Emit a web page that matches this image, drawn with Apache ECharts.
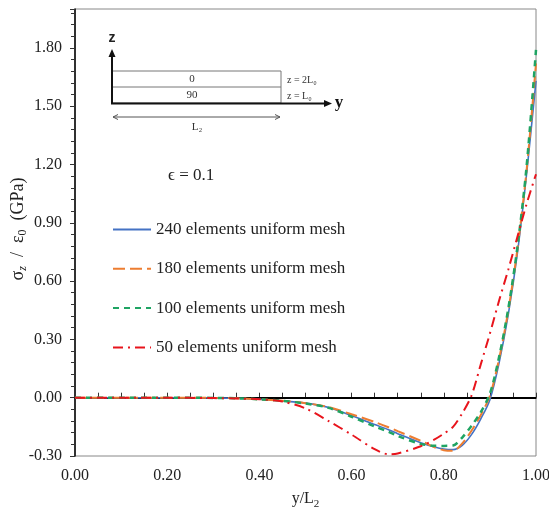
<!DOCTYPE html>
<html>
<head>
<meta charset="utf-8">
<script src="https://cdn.jsdelivr.net/npm/echarts@6/dist/echarts.min.js"></script>
<style>html,body{margin:0;padding:0;background:#fff}#c{width:549px;height:507px}</style>
</head>
<body>
<div id="c"></div>
<script>
// shared x positions (y/L2)
const xs = [0, 0.1, 0.2, 0.3, 0.35, 0.4, 0.45, 0.5, 0.55, 0.6, 0.65, 0.68, 0.7, 0.75, 0.78, 0.8, 0.82, 0.84, 0.86, 0.88, 0.9, 0.92, 0.94, 0.96, 0.98, 1.0];
// sigma_z / eps0 (GPa)
const mesh240 = [0, 0, 0, -0.001, -0.003, -0.008, -0.016, -0.028, -0.05, -0.092, -0.138, -0.165, -0.185, -0.232, -0.254, -0.264, -0.267, -0.245, -0.19, -0.11, -0.01, 0.18, 0.43, 0.75, 1.16, 1.63];
const mesh180 = [0, 0, 0, -0.001, -0.003, -0.008, -0.016, -0.028, -0.048, -0.085, -0.125, -0.152, -0.172, -0.222, -0.255, -0.27, -0.273, -0.235, -0.17, -0.09, 0.01, 0.2, 0.45, 0.77, 1.18, 1.72];
const mesh100 = [0, 0, 0, -0.001, -0.003, -0.008, -0.016, -0.03, -0.052, -0.098, -0.148, -0.175, -0.197, -0.238, -0.247, -0.248, -0.246, -0.205, -0.145, -0.075, 0.02, 0.21, 0.46, 0.78, 1.2, 1.79];
const mesh50 = [0, 0, 0, -0.002, -0.004, -0.008, -0.02, -0.055, -0.12, -0.19, -0.265, -0.291, -0.287, -0.25, -0.215, -0.185, -0.15, -0.08, 0.01, 0.17, 0.33, 0.5, 0.66, 0.83, 1.0, 1.15];
const seriesNames = ['240 elements uniform mesh', '180 elements uniform mesh', '100 elements uniform mesh', '50 elements uniform mesh'];
const xTickLabels = ['0.00', '0.20', '0.40', '0.60', '0.80', '1.00'];
const yTickLabels = ['-0.30', '0.00', '0.30', '0.60', '0.90', '1.20', '1.50', '1.80'];

const pair = arr => xs.map((x, i) => [x, arr[i]]);
const serif = 'Liberation Serif';
const chart = echarts.init(document.getElementById('c'));

const styles = [
  {color: '#4472C4', width: 1.6, type: 'solid'},
  {color: '#ED7D31', width: 2, type: [12, 5]},
  {color: '#1FA463', width: 2.5, type: [6, 5]},
  {color: '#E8141C', width: 2, type: [10, 5, 2, 5]}
];
const datas = [mesh240, mesh180, mesh100, mesh50];

const series = datas.map((d, i) => ({
  name: seriesNames[i],
  type: 'line',
  data: pair(d),
  smooth: 0.3,
  showSymbol: false,
  symbol: 'none',
  lineStyle: styles[i],
  itemStyle: {color: styles[i].color},
  z: 3 + i
}));
series[0].markLine = {
  silent: true,
  symbol: 'none',
  label: {show: false},
  lineStyle: {color: '#000', width: 2, type: 'solid'},
  data: [{yAxis: 0}],
  z: 2
};

const axisLbl = {fontFamily: serif, fontSize: 16, color: '#222'};

chart.setOption({
  animation: false,
  backgroundColor: '#fff',
  grid: {left: 75, right: 13, top: 9, bottom: 51, show: true, borderColor: '#888', borderWidth: 1, outerBoundsMode: 'none', containLabel: false},
  xAxis: {
    type: 'value', min: 0, max: 1, interval: 0.2,
    name: '{a|y/L}{s|2}', nameLocation: 'middle', nameGap: 32,
    nameTextStyle: {rich: {a: {fontFamily: serif, fontSize: 16, color: '#222', lineHeight: 22, verticalAlign: 'middle'}, s: {fontFamily: serif, fontSize: 11, color: '#222', lineHeight: 22, verticalAlign: 'bottom'}}},
    axisLine: {lineStyle: {color: '#000', width: 1.5}},
    axisTick: {inside: true, length: 5, lineStyle: {color: '#333'}},
    minorTick: {show: true, splitNumber: 4, length: 5, lineStyle: {color: '#333'}},
    axisLabel: Object.assign({margin: 12, formatter: v => xTickLabels[Math.round(v / 0.2)]}, axisLbl),
    splitLine: {show: false}
  },
  yAxis: {
    type: 'value', min: -0.3, max: 2.0, interval: 0.3,
    axisLine: {show: true, lineStyle: {color: '#000', width: 1.5}},
    axisTick: {show: true, inside: false, length: 5, lineStyle: {color: '#333'}},
    minorTick: {show: true, splitNumber: 5, length: 4, lineStyle: {color: '#333'}},
    axisLabel: Object.assign({margin: 13, showMaxLabel: false, formatter: v => {
      const i = Math.round((v + 0.3) / 0.3);
      return Math.abs(v - (-0.3 + i * 0.3)) < 1e-6 ? (yTickLabels[i] || '') : '';
    }}, axisLbl),
    splitLine: {show: false}
  },
  legend: {
    orient: 'vertical', left: 107, top: 216, itemGap: 22.3,
    itemWidth: 38, itemHeight: 18,
    itemStyle: {opacity: 0},
    data: seriesNames,
    textStyle: {fontFamily: serif, fontSize: 17, color: '#222'}
  },
  graphic: [
    // y-axis title
    {type: 'text', x: 18, y: 229, rotation: Math.PI / 2, style: {
      text: '{a|σ}{si|z}{a|  /  ε}{s|0}{a|  (GPa)}', align: 'center', verticalAlign: 'middle',
      rich: {
        a: {fontFamily: serif, fontSize: 18, fill: '#222', lineHeight: 22, verticalAlign: 'middle'},
        s: {fontFamily: serif, fontSize: 12, fill: '#222', lineHeight: 22, verticalAlign: 'bottom'},
        si: {fontFamily: serif, fontSize: 12, fontStyle: 'italic', fill: '#222', lineHeight: 22, verticalAlign: 'bottom'}
      }
    }},
    {type: 'text', left: 168, top: 167, style: {text: 'ϵ = 0.1', font: '17px "Liberation Serif"', fill: '#222'}},
    // inset diagram
    {type: 'rect', shape: {x: 112, y: 71, width: 169, height: 32}, style: {fill: 'none', stroke: '#777', lineWidth: 1}},
    {type: 'line', shape: {x1: 112, y1: 87, x2: 281, y2: 87}, style: {stroke: '#777', lineWidth: 1}},
    {type: 'line', shape: {x1: 112, y1: 104, x2: 112, y2: 55}, style: {stroke: '#111', lineWidth: 2}},
    {type: 'polygon', shape: {points: [[112, 49], [108.5, 57], [115.5, 57]]}, style: {fill: '#111'}},
    {type: 'line', shape: {x1: 111, y1: 103.5, x2: 325, y2: 103.5}, style: {stroke: '#111', lineWidth: 2}},
    {type: 'polygon', shape: {points: [[332, 103.5], [324, 100], [324, 107]]}, style: {fill: '#111'}},
    {type: 'text', x: 112, y: 38, style: {text: 'z', font: 'bold 14px "Liberation Sans"', fill: '#222', align: 'center', verticalAlign: 'middle'}},
    {type: 'text', x: 339, y: 103, style: {text: 'y', font: 'bold 17px "Liberation Serif"', fill: '#111', align: 'center', verticalAlign: 'middle'}},
    {type: 'text', x: 192, y: 79, style: {text: '0', font: '11px "Liberation Serif"', fill: '#333', align: 'center', verticalAlign: 'middle'}},
    {type: 'text', x: 192, y: 95, style: {text: '90', font: '11px "Liberation Serif"', fill: '#333', align: 'center', verticalAlign: 'middle'}},
    {type: 'text', x: 287, y: 80, style: {text: 'z = 2L₀', font: '10px "Liberation Serif"', fill: '#333', align: 'left', verticalAlign: 'middle'}},
    {type: 'text', x: 287, y: 96, style: {text: 'z = L₀', font: '10px "Liberation Serif"', fill: '#333', align: 'left', verticalAlign: 'middle'}},
    {type: 'line', shape: {x1: 113, y1: 117, x2: 280, y2: 117}, style: {stroke: '#555', lineWidth: 1}},
    {type: 'polyline', shape: {points: [[118, 114.5], [113, 117], [118, 119.5]]}, style: {stroke: '#555', lineWidth: 1, fill: 'none'}},
    {type: 'polyline', shape: {points: [[275, 114.5], [280, 117], [275, 119.5]]}, style: {stroke: '#555', lineWidth: 1, fill: 'none'}},
    {type: 'text', x: 197, y: 127, style: {text: 'L₂', font: '11px "Liberation Serif"', fill: '#333', align: 'center', verticalAlign: 'middle'}}
  ],
  series: series
});
</script>
</body>
</html>
